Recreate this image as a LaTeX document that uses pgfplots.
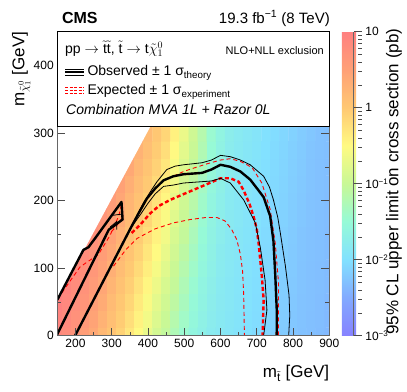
\documentclass[border=0pt]{standalone}
\usepackage{fontspec}
\setmainfont{Liberation Sans}
\setmathrm{Liberation Sans}
\usepackage{pgfplots}
\pgfplotsset{compat=1.18}
\newcommand{\fs}[1]{\fontsize{#1}{#1}\selectfont}
\begin{document}
\begin{tikzpicture}
\path[use as bounding box] (-57.3pt,-55.3pt) rectangle (349.7pt,335.7pt);
\begin{axis}[
    at={(0,0)}, anchor=south west,
    scale only axis, width=272pt, height=304pt,
    xmin=150, xmax=900, ymin=0, ymax=450,
    xtick={200,300,...,900}, ytick={0,100,...,400},
    minor x tick num=1, minor y tick num=1,
    tick align=inside, xtick pos=both, ytick pos=both,
    major tick length=8pt, minor tick length=4pt,
    tick style={black!70, line width=0.6pt},
    axis line style={black!60, line width=0.8pt},
    axis on top, clip mode=individual,
    ticklabel style={font=\fs{12}},
    /pgf/number format/assume math mode=true,
    colormap={cms}{rgb255=(135,130,255) rgb255=(130,170,255) rgb255=(130,225,255) rgb255=(150,250,215) rgb255=(200,248,150) rgb255=(255,250,130) rgb255=(255,200,115) rgb255=(255,160,118) rgb255=(255,128,128)},
    point meta min=-3, point meta max=1,
    colorbar,
    colorbar style={
        at={(parent axis.north east)}, anchor=north west, xshift=4pt,
        width=20pt,
        ytick={-3,-2,-1,0,1},
        yticklabels={10\textsuperscript{−3},10\textsuperscript{−2},10\textsuperscript{−1},1,10},
        minor ytick={-2.699,-2.523,-2.398,-2.301,-2.222,-2.155,-2.097,-2.046,
                     -1.699,-1.523,-1.398,-1.301,-1.222,-1.155,-1.097,-1.046,
                     -0.699,-0.523,-0.398,-0.301,-0.222,-0.155,-0.097,-0.046,
                     0.301,0.477,0.602,0.699,0.778,0.845,0.903,0.954},
        tick align=inside, ytick pos=right, yticklabel pos=right,
        major tick length=8pt, minor tick length=4pt,
        tick style={black!70, line width=0.6pt},
        yticklabel style={font=\fs{12}},
        axis line style={draw=none},
    },
    no markers,
]
% limit map, log10 of the cross section limit (pb), 25 GeV cells
\addplot[matrix plot*, mesh/rows=13, mesh/cols=31, mesh/ordering=y varies, point meta=explicit]
 table[row sep=\\, meta=z]{x y z\\
150 0 0.90\\150 25 0.94\\150 50 0.98\\150 75 1.02\\150 100 1\\150 125 1\\150 150 1\\150 175 1\\150 200 1\\150 225 1\\150 250 1\\150 275 1\\150 300 1\\
175 0 0.80\\175 25 0.84\\175 50 0.88\\175 75 0.92\\175 100 0.96\\175 125 1\\175 150 1\\175 175 1\\175 200 1\\175 225 1\\175 250 1\\175 275 1\\175 300 1\\
200 0 0.70\\200 25 0.74\\200 50 0.78\\200 75 0.82\\200 100 0.86\\200 125 0.90\\200 150 1\\200 175 1\\200 200 1\\200 225 1\\200 250 1\\200 275 1\\200 300 1\\
225 0 0.55\\225 25 0.61\\225 50 0.67\\225 75 0.72\\225 100 0.76\\225 125 0.80\\225 150 0.84\\225 175 1\\225 200 1\\225 225 1\\225 250 1\\225 275 1\\225 300 1\\
250 0 0.40\\250 25 0.46\\250 50 0.52\\250 75 0.58\\250 100 0.64\\250 125 0.70\\250 150 0.74\\250 175 0.78\\250 200 1\\250 225 1\\250 250 1\\250 275 1\\250 300 1\\
275 0 0.20\\275 25 0.28\\275 50 0.36\\275 75 0.43\\275 100 0.49\\275 125 0.55\\275 150 0.61\\275 175 0.67\\275 200 0.72\\275 225 1\\275 250 1\\275 275 1\\275 300 1\\
300 0 0.05\\300 25 0.11\\300 50 0.17\\300 75 0.24\\300 100 0.32\\300 125 0.40\\300 150 0.46\\300 175 0.52\\300 200 0.58\\300 225 0.64\\300 250 1\\300 275 1\\300 300 1\\
325 0 -0.10\\325 25 -0.04\\325 50 0.02\\325 75 0.08\\325 100 0.14\\325 125 0.20\\325 150 0.28\\325 175 0.36\\325 200 0.43\\325 225 0.49\\325 250 0.55\\325 275 1\\325 300 1\\
350 0 -0.30\\350 25 -0.22\\350 50 -0.14\\350 75 -0.07\\350 100 -0.01\\350 125 0.05\\350 150 0.11\\350 175 0.17\\350 200 0.24\\350 225 0.32\\350 250 0.40\\350 275 0.46\\350 300 1\\
375 0 -0.50\\375 25 -0.42\\375 50 -0.34\\375 75 -0.26\\375 100 -0.18\\375 125 -0.10\\375 150 -0.04\\375 175 0.02\\375 200 0.08\\375 225 0.14\\375 250 0.20\\375 275 0.28\\375 300 0.36\\
400 0 -0.70\\400 25 -0.62\\400 50 -0.54\\400 75 -0.46\\400 100 -0.38\\400 125 -0.30\\400 150 -0.22\\400 175 -0.14\\400 200 -0.07\\400 225 -0.01\\400 250 0.05\\400 275 0.11\\400 300 0.17\\
425 0 -0.90\\425 25 -0.82\\425 50 -0.74\\425 75 -0.66\\425 100 -0.58\\425 125 -0.50\\425 150 -0.42\\425 175 -0.34\\425 200 -0.26\\425 225 -0.18\\425 250 -0.10\\425 275 -0.04\\425 300 0.02\\
450 0 -1.05\\450 25 -0.99\\450 50 -0.93\\450 75 -0.86\\450 100 -0.78\\450 125 -0.70\\450 150 -0.62\\450 175 -0.54\\450 200 -0.46\\450 225 -0.38\\450 250 -0.30\\450 275 -0.22\\450 300 -0.14\\
475 0 -1.25\\475 25 -1.18\\475 50 -1.10\\475 75 -1.03\\475 100 -0.98\\475 125 -0.92\\475 150 -0.86\\475 175 -0.78\\475 200 -0.71\\475 225 -0.63\\475 250 -0.56\\475 275 -0.49\\475 300 -0.41\\
500 0 -1.45\\500 25 -1.38\\500 50 -1.31\\500 75 -1.25\\500 100 -1.18\\500 125 -1.11\\500 150 -1.04\\500 175 -0.99\\500 200 -0.94\\500 225 -0.89\\500 250 -0.82\\500 275 -0.75\\500 300 -0.68\\
525 0 -1.60\\525 25 -1.55\\525 50 -1.51\\525 75 -1.46\\525 100 -1.40\\525 125 -1.34\\525 150 -1.28\\525 175 -1.22\\525 200 -1.15\\525 225 -1.09\\525 250 -1.04\\525 275 -0.99\\525 300 -0.94\\
550 0 -1.70\\550 25 -1.67\\550 50 -1.64\\550 75 -1.62\\550 100 -1.58\\550 125 -1.54\\550 150 -1.50\\550 175 -1.46\\550 200 -1.40\\550 225 -1.35\\550 250 -1.29\\550 275 -1.23\\550 300 -1.18\\
575 0 -1.80\\575 25 -1.78\\575 50 -1.75\\575 75 -1.73\\575 100 -1.70\\575 125 -1.68\\575 150 -1.65\\575 175 -1.63\\575 200 -1.60\\575 225 -1.56\\575 250 -1.53\\575 275 -1.49\\575 300 -1.45\\
600 0 -1.85\\600 25 -1.84\\600 50 -1.83\\600 75 -1.82\\600 100 -1.80\\600 125 -1.79\\600 150 -1.76\\600 175 -1.74\\600 200 -1.72\\600 225 -1.69\\600 250 -1.67\\600 275 -1.65\\600 300 -1.62\\
625 0 -1.90\\625 25 -1.89\\625 50 -1.88\\625 75 -1.87\\625 100 -1.86\\625 125 -1.85\\625 150 -1.84\\625 175 -1.83\\625 200 -1.82\\625 225 -1.81\\625 250 -1.79\\625 275 -1.77\\625 300 -1.75\\
650 0 -1.95\\650 25 -1.94\\650 50 -1.93\\650 75 -1.92\\650 100 -1.91\\650 125 -1.90\\650 150 -1.89\\650 175 -1.88\\650 200 -1.87\\650 225 -1.86\\650 250 -1.85\\650 275 -1.84\\650 300 -1.82\\
675 0 -2.00\\675 25 -1.99\\675 50 -1.98\\675 75 -1.97\\675 100 -1.96\\675 125 -1.95\\675 150 -1.94\\675 175 -1.93\\675 200 -1.92\\675 225 -1.91\\675 250 -1.90\\675 275 -1.89\\675 300 -1.88\\
700 0 -2.05\\700 25 -2.04\\700 50 -2.03\\700 75 -2.02\\700 100 -2.01\\700 125 -2.00\\700 150 -1.99\\700 175 -1.98\\700 200 -1.97\\700 225 -1.96\\700 250 -1.95\\700 275 -1.94\\700 300 -1.93\\
725 0 -2.10\\725 25 -2.09\\725 50 -2.08\\725 75 -2.07\\725 100 -2.06\\725 125 -2.06\\725 150 -2.05\\725 175 -2.04\\725 200 -2.03\\725 225 -2.02\\725 250 -2.01\\725 275 -2.00\\725 300 -1.99\\
750 0 -2.15\\750 25 -2.14\\750 50 -2.13\\750 75 -2.12\\750 100 -2.11\\750 125 -2.11\\750 150 -2.10\\750 175 -2.09\\750 200 -2.08\\750 225 -2.07\\750 250 -2.06\\750 275 -2.05\\750 300 -2.04\\
775 0 -2.20\\775 25 -2.19\\775 50 -2.18\\775 75 -2.17\\775 100 -2.16\\775 125 -2.16\\775 150 -2.15\\775 175 -2.14\\775 200 -2.13\\775 225 -2.12\\775 250 -2.11\\775 275 -2.10\\775 300 -2.09\\
800 0 -2.25\\800 25 -2.24\\800 50 -2.23\\800 75 -2.22\\800 100 -2.21\\800 125 -2.21\\800 150 -2.20\\800 175 -2.19\\800 200 -2.18\\800 225 -2.17\\800 250 -2.16\\800 275 -2.15\\800 300 -2.14\\
825 0 -2.28\\825 25 -2.27\\825 50 -2.27\\825 75 -2.26\\825 100 -2.26\\825 125 -2.25\\825 150 -2.25\\825 175 -2.24\\825 200 -2.23\\825 225 -2.22\\825 250 -2.21\\825 275 -2.20\\825 300 -2.19\\
850 0 -2.30\\850 25 -2.30\\850 50 -2.29\\850 75 -2.29\\850 100 -2.29\\850 125 -2.28\\850 150 -2.28\\850 175 -2.27\\850 200 -2.27\\850 225 -2.26\\850 250 -2.26\\850 275 -2.25\\850 300 -2.24\\
875 0 -2.33\\875 25 -2.32\\875 50 -2.32\\875 75 -2.31\\875 100 -2.31\\875 125 -2.30\\875 150 -2.30\\875 175 -2.30\\875 200 -2.29\\875 225 -2.29\\875 250 -2.29\\875 275 -2.28\\875 300 -2.28\\
900 0 -2.36\\900 25 -2.35\\900 50 -2.35\\900 75 -2.34\\900 100 -2.34\\900 125 -2.33\\900 150 -2.33\\900 175 -2.32\\900 200 -2.32\\900 225 -2.31\\900 250 -2.31\\900 275 -2.30\\900 300 -2.30\\
};
% kinematically forbidden corner
\addplot[fill=white, draw=none] coordinates {(150,53) (150,460) (557,460)} -- cycle;

% expected -1 sigma (inner)
\addplot[red, line width=0.9pt, dash pattern=on 4pt off 3pt] coordinates {
 (305,103) (340,128) (370,144) (419,158) (470,167) (517,172) (560,175) (590,175)
 (612,170) (630,158) (645,142) (655,120) (661,95) (664,60) (666,0)};
% expected +1 sigma (outer)
\addplot[red, line width=0.9pt, dash pattern=on 4pt off 3pt] coordinates {
 (470,236) (498,243) (520,247) (560,254) (600,260) (627,262) (655,258) (687,249)
 (714,226) (737,187) (751,137) (760,78) (760,0)};
% expected, left strip
\addplot[red, line width=0.9pt, dash pattern=on 4pt off 3pt] coordinates {
 (152,55) (171,70) (213,102) (263,120) (295,148) (320,178) (328,197) (330,175) (310,160) (295,152)};
% expected central
\addplot[red, line width=2.4pt, dash pattern=on 4pt off 2.5pt] coordinates {
 (355,152) (380,165) (406,181) (430,192) (461,201) (500,210) (535,218) (570,226)
 (600,233) (627,233) (650,228) (664,215) (680,195) (691,177) (700,158) (705,137)
 (710,110) (714,88) (719,53) (716,0)};

% observed +-1 sigma theory
\addplot[black, line width=0.8pt] coordinates {
 (351,158) (375,184) (390,199) (410,216) (425,228) (452,246) (475,251) (498,253)
 (549,256) (575,260) (600,267) (627,265) (655,260) (682,253) (719,236) (735,220)
 (746,201) (758,175) (765,152) (779,103) (789,60) (791,30) (788,0)};
\addplot[black, line width=0.8pt] coordinates {
 (355,161) (380,180) (400,196) (420,210) (443,221) (470,223) (498,226) (549,228)
 (575,229) (600,233) (627,226) (664,201) (696,167) (710,130) (723,82) (728,38) (719,0)};
\addplot[black, line width=0.8pt] coordinates {(300,178) (328,180)};
\addplot[black, line width=0.8pt] coordinates {(296,161) (314,169) (314,157)};
% observed central
\addplot[black, line width=2.4pt, line join=round] coordinates {
 (199,0) (250,53) (300,105) (351,158) (375,182) (397,203) (420,218) (443,230)
 (470,236) (498,239) (549,241) (575,246) (600,253) (627,250) (655,243) (682,231)
 (705,215) (719,205) (737,177) (746,140) (751,90) (755,40) (755,0)};
\addplot[black, line width=2.4pt, line join=round] coordinates {
 (150,53) (222,127) (236,131) (254,144) (304,181) (327,198) (330,172) (292,157) (148,0)};
\end{axis}

% colour bar right edge
\draw[black!60, line width=0.8pt] (296pt,0pt) -- (296pt,304pt);

% texts
\node[anchor=base west, inner sep=0pt, font=\bfseries\fs{16}] at (4.5pt,312.5pt) {CMS};
\node[anchor=base east, inner sep=0pt, font=\fs{15}] at (272.7pt,312.5pt) {19.3 fb\textsuperscript{−1} (8 TeV)};
\node[rotate=90, anchor=base east, inner sep=0pt, font=\fs{17}] at (-32.8pt,304pt) {m$_{\tilde{\chi}^{0}_{1}}$ [GeV]};
\node[anchor=base east, inner sep=0pt, font=\fs{17}] at (272pt,-41.6pt) {m$_{\tilde{\mathrm{t}}}$ [GeV]};
\node[rotate=90, anchor=base, inner sep=0pt, font=\fs{17}] at (341pt,154pt) {95\% CL upper limit on cross section (pb)};

% legend box
\draw[fill=white, line width=1.2pt] (0pt,209pt) rectangle (272pt,304pt);
\node[anchor=base west, inner sep=0pt, font=\fs{14}] at (7.7pt,282.4pt)
  {pp $\rightarrow \tilde{\mathrm{t}}\tilde{\mathrm{t}}$, $\tilde{\mathrm{t}} \rightarrow \mathrm{t}\tilde{\chi}^{0}_{1}$};
\node[anchor=base east, inner sep=0pt, font=\fs{11}] at (266.7pt,281.4pt) {NLO+NLL exclusion};
\draw[black, line width=0.9pt] (7.7pt,266.4pt) -- (26.2pt,266.4pt);
\draw[black, line width=1.8pt] (7.7pt,263.4pt) -- (26.2pt,263.4pt);
\draw[black, line width=0.9pt] (7.7pt,260.4pt) -- (26.2pt,260.4pt);
\draw[red, line width=1pt, dash pattern=on 3pt off 1.5pt] (7.7pt,247.7pt) -- (26.2pt,247.7pt);
\draw[red, line width=1.5pt, dash pattern=on 3pt off 1.5pt] (7.7pt,245pt) -- (26.2pt,245pt);
\draw[red, line width=1pt, dash pattern=on 3pt off 1.5pt] (7.7pt,242pt) -- (26.2pt,242pt);
\node[anchor=base west, inner sep=0pt, font=\fs{14}] at (30pt,259.7pt) {Observed ± 1 σ\textsubscript{theory}};
\node[anchor=base west, inner sep=0pt, font=\fs{14}] at (30pt,240.7pt) {Expected ± 1 σ\textsubscript{experiment}};
\node[anchor=base west, inner sep=0pt, font=\itshape\fs{14}] at (8.7pt,220.7pt) {Combination MVA 1L + Razor 0L};
\end{tikzpicture}
\end{document}
